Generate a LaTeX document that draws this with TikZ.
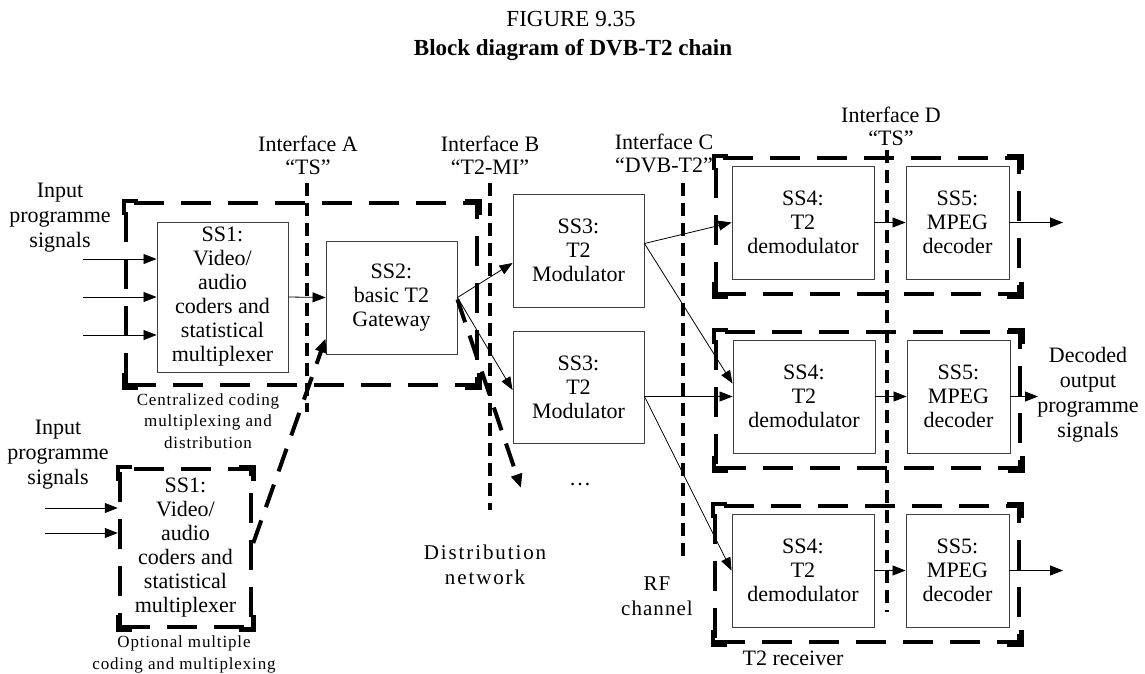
\documentclass[tikz,border=0pt]{standalone}
\usepackage{fontspec}
\setmainfont{Liberation Serif}
\newfontfamily\spacedfont[LetterSpace=5]{Liberation Serif}
\newfontfamily\wspacedfont[LetterSpace=9]{Liberation Serif}
\usetikzlibrary{arrows.meta,calc}
\begin{document}
\begin{tikzpicture}[x=1pt,y=-1pt,
  blk/.style={draw=black!75, line width=0.9pt, inner sep=0pt, align=center,
    font=\fontsize{22}{24}\selectfont},
  region/.style={draw, line width=4.5pt, dash pattern=on 30pt off 17pt, inner sep=0pt},
  iface/.style={line width=3.5pt, dash pattern=on 13pt off 7pt},
  lbl/.style={align=center, inner sep=0pt, font=\fontsize{22}{24}\selectfont},
  small/.style={align=center, inner sep=0pt, font=\spacedfont\fontsize{17}{21.5}\selectfont},
  wide/.style={align=center, inner sep=0pt, font=\wspacedfont\fontsize{21}{25}\selectfont},
  arr/.style={line width=0.8pt, -{Triangle[length=13pt,width=10pt]}},
  darr/.style={line width=4pt, dash pattern=on 24pt off 14pt, -{Triangle[length=14pt,width=11pt]}},
  corner/.style={line width=4.5pt}
]
\useasboundingbox (0,0) rectangle (1145,673);

% title
\node[lbl, font=\fontsize{23}{25}\selectfont] (fig) at (571,19) {FIGURE 9.35};
\node[lbl, font=\bfseries\fontsize{23}{25}\selectfont] (title) at (573,50) {Block diagram of DVB-T2 chain};

% region boxes
\node[region, minimum width=351pt, minimum height=182pt] (cent) at (301.5,294) {};
\node[region, minimum width=131pt, minimum height=158pt, align=center,
  font=\fontsize{22}{24}\selectfont] (opt) at (185.5,548)
  {SS1:\\Video/\\audio\\coders and\\statistical\\multiplexer};
\node[region, minimum width=303pt, minimum height=136pt] (rxt) at (867.5,226) {};
\node[region, minimum width=304pt, minimum height=136pt] (rxm) at (868,400) {};
\node[region, minimum width=304pt, minimum height=136pt] (rxb) at (867,574) {};
\foreach \r in {cent,opt,rxt,rxm,rxb}{
  \draw[corner] ([yshift=-14pt]\r.north west) -- (\r.north west) -- ([xshift=14pt]\r.north west);
  \draw[corner] ([yshift=-14pt]\r.north east) -- (\r.north east) -- ([xshift=-14pt]\r.north east);
  \draw[corner] ([yshift=14pt]\r.south west) -- (\r.south west) -- ([xshift=14pt]\r.south west);
  \draw[corner] ([yshift=14pt]\r.south east) -- (\r.south east) -- ([xshift=-14pt]\r.south east);
}

% interface lines
\coordinate (iAt) at (307,183); \coordinate (iAb) at (307,412);
\coordinate (iBt) at (490,183); \coordinate (iBb) at (490,510);
\coordinate (iCt) at (683,183); \coordinate (iCb) at (683,558);
\coordinate (iDt) at (887,150); \coordinate (iDb) at (887,612);
\draw[iface] (iAt) -- (iAb);
\draw[iface] (iBt) -- (iBb);
\draw[iface] (iCt) -- (iCb);
\draw[iface] (iDt) -- (iDb);
\node[lbl, font=\fontsize{22}{23}\selectfont] (lA) at (308,155) {Interface A\\“TS”};
\node[lbl, font=\fontsize{22}{23}\selectfont] (lB) at (490,155) {Interface B\\“T2-MI”};
\node[lbl, font=\fontsize{22}{23}\selectfont] (lC) at (664,153) {Interface C\\“DVB-T2”};
\node[lbl, font=\fontsize{22}{23}\selectfont] (lD) at (891,126) {Interface D\\“TS”};

% blocks
\node[blk, minimum width=131pt, minimum height=150pt] (ss1) at (222.5,297)
  {SS1:\\Video/\\audio\\coders and\\statistical\\multiplexer};
\node[blk, minimum width=131pt, minimum height=113pt] (ss2) at (391.5,297.5)
  {SS2:\\basic T2\\Gateway};
\node[blk, minimum width=131pt, minimum height=113pt] (ss3t) at (578.5,250.5)
  {SS3:\\T2\\Modulator};
\node[blk, minimum width=131pt, minimum height=112pt] (ss3b) at (578.5,387)
  {SS3:\\T2\\Modulator};
\node[blk, minimum width=142pt, minimum height=113pt] (ss4t) at (803,222.5)
  {SS4:\\T2\\demodulator};
\node[blk, minimum width=103pt, minimum height=113pt] (ss5t) at (957.5,222.5)
  {SS5:\\MPEG\\decoder};
\node[blk, minimum width=142pt, minimum height=113pt] (ss4m) at (804,396.5)
  {SS4:\\T2\\demodulator};
\node[blk, minimum width=103pt, minimum height=113pt] (ss5m) at (958.5,396.5)
  {SS5:\\MPEG\\decoder};
\node[blk, minimum width=142pt, minimum height=113pt] (ss4b) at (803,570.5)
  {SS4:\\T2\\demodulator};
\node[blk, minimum width=103pt, minimum height=113pt] (ss5b) at (957.5,570.5)
  {SS5:\\MPEG\\decoder};

% labels
\node[lbl, font=\fontsize{22}{25}\selectfont] (in1) at (60,218) {Input\\programme\\signals};
\node[lbl, font=\fontsize{22}{25}\selectfont] (in2) at (58,455) {Input\\programme\\signals};
\node[small] (centl) at (208,421) {Centralized coding\\multiplexing and\\distribution};
\node[small, font=\spacedfont\fontsize{17}{22}\selectfont] (optl) at (184,654) {Optional multiple\\coding and multiplexing};
\node[wide] (distl) at (485,565) {Distribution\\network};
\node[wide, font=\spacedfont\fontsize{21}{25}\selectfont] (rfl) at (657,596) {RF\\channel};
\node[lbl] (dots) at (580,485) {…};
\node[lbl] (rxl) at (793,658) {T2 receiver};
\node[lbl, font=\fontsize{22}{25}\selectfont] (outl) at (1088,395) {Decoded\\output\\programme\\signals};

% input arrows
\coordinate (a1) at (83,259); \coordinate (a2) at (83,297); \coordinate (a3) at (83,335);
\draw[arr] (a1) -- (a1 -| ss1.west);
\draw[arr] (a2) -- (a2 -| ss1.west);
\draw[arr] (a3) -- (a3 -| ss1.west);
\coordinate (b1) at (45,508); \coordinate (b2) at (45,533);
\draw[arr] (b1) -- (b1 -| opt.west);
\draw[arr] (b2) -- (b2 -| opt.west);

% main chain
\draw[arr] (ss1.east) -- (ss2.west);
\draw[arr] (ss2.east) -- ($(ss3t.west)+(0,12.5)$);
\draw[arr] (ss2.east) -- ($(ss3b.west)+(0,3)$);
\coordinate (more) at (521,488);
\draw[darr] ($(ss2.east)+(0,2)$) -- (more);
\draw[darr] ($(opt.east)+(0,-5)$) -- ($(ss2.south west)+(0,-16)$);

\coordinate (o3t) at ($(ss3t.east)+(0,-7)$);
\coordinate (o3b) at (ss3b.east |- ss4m.west);
\draw[arr] (o3t) -- (ss4t.west);
\draw[arr] (o3t) -- ($(ss4m.west)+(0,-13)$);
\draw[arr] (o3b) -- (ss4m.west);
\draw[arr] (o3b) -- (ss4b.west);

\draw[arr] (ss4t.east) -- (ss5t.west);
\draw[arr] (ss4m.east) -- (ss5m.west);
\draw[arr] (ss4b.east) -- (ss5b.west);
\coordinate (e1) at (1063,222.5); \coordinate (e2) at (1038,396.5); \coordinate (e3) at (1063,570.5);
\draw[arr] (ss5t.east) -- (e1);
\draw[arr] (ss5m.east) -- (e2);
\draw[arr] (ss5b.east) -- (e3);
\end{tikzpicture}
\end{document}
